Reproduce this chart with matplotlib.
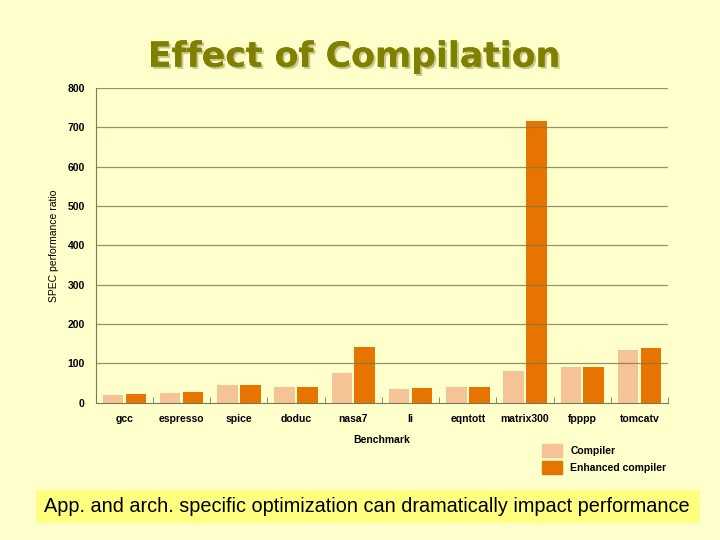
import numpy as np
import matplotlib.pyplot as plt
import matplotlib.patheffects as pe
from matplotlib.patches import Patch, Rectangle

# Data
benchmarks = ["gcc", "espresso", "spice", "doduc", "nasa7", "li",
              "eqntott", "matrix300", "fpppp", "tomcatv"]
compiler = [20, 25, 45, 40, 76, 36, 40, 81, 91, 135]
enhanced = [22, 27, 45, 41, 142, 37, 41, 716, 91, 140]
y_ticks = [0, 100, 200, 300, 400, 500, 600, 700, 800]

BG = "#FFFFCC"
LIGHT = "#F5C396"
DARK = "#E87400"
GRID = "#7A7A50"

plt.rcParams["font.family"] = ["Liberation Sans", "DejaVu Sans"]

fig = plt.figure(figsize=(7.2, 5.4), dpi=100)
fig.patch.set_facecolor(BG)
ax = fig.add_axes([0.133, 0.254, 0.795, 0.583])
ax.set_facecolor(BG)

x = np.arange(len(benchmarks))
w = 0.36
ax.bar(x - 0.2, compiler, w, color=LIGHT, zorder=1)
ax.bar(x + 0.2, enhanced, w, color=DARK, zorder=1)

ax.set_xlim(-0.5, 9.5)
ax.set_ylim(0, 800)
ax.set_yticks(y_ticks)
ax.set_yticklabels([str(v) for v in y_ticks], fontsize=7.5, fontweight="bold")
for v in y_ticks[1:]:
    ax.axhline(v, color=GRID, lw=0.9, alpha=0.8, zorder=3)

ax.set_xticks(x)
ax.set_xticklabels(benchmarks, fontsize=7.5, fontweight="bold")
ax.tick_params(axis="x", length=0, pad=8)
ax.tick_params(axis="y", length=0, pad=8)
ax.set_xticks(np.arange(0.5, 10, 1), minor=True)
ax.tick_params(axis="x", which="minor", direction="in", length=4, color=GRID)

for s in ["top", "right"]:
    ax.spines[s].set_visible(False)
ax.spines["left"].set_color(GRID)
ax.spines["bottom"].set_color(GRID)

ax.set_xlabel("Benchmark", fontsize=7.5, fontweight="bold", labelpad=8)
ax.set_ylabel("SPEC performance ratio", fontsize=7.5, labelpad=6)

handles = [Patch(color=LIGHT, label="Compiler"),
           Patch(color=DARK, label="Enhanced compiler")]
fig.legend(handles=handles, loc="upper left", bbox_to_anchor=(0.74, 0.195),
           frameon=False, prop={"weight": "bold", "size": 7.5},
           handlelength=1.9, handleheight=1.6, labelspacing=0.3)

fig.text(0.492, 0.895, "Effect of Compilation", ha="center", va="center",
         fontsize=25, fontweight="bold", color="#808000", family="DejaVu Sans",
         path_effects=[pe.withSimplePatchShadow(offset=(1.5, -1.5),
                                                shadow_rgbFace="#C8C890", alpha=1),
                       pe.Normal()])

fig.patches.append(Rectangle((0.05, 0.031), 0.922, 0.062, transform=fig.transFigure,
                             facecolor="#FFFF80", edgecolor="none", zorder=0))
fig.text(0.061, 0.062, "App. and arch. specific optimization can dramatically impact performance",
         ha="left", va="center", fontsize=14.3, color="black")

plt.savefig("out.png", facecolor=fig.get_facecolor())
